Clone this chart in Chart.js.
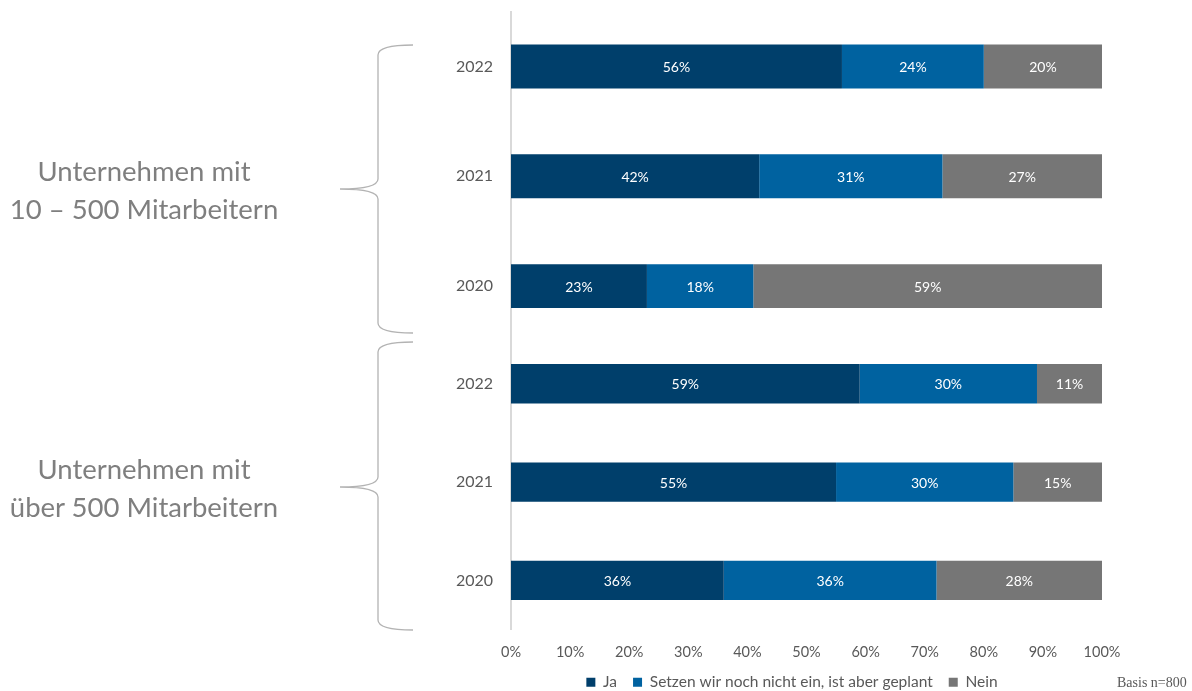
<!DOCTYPE html>
<html lang="de">
<head>
  <meta charset="UTF-8">
  <title>Einsatz nach Unternehmensgröße</title>
  <script src="https://cdn.jsdelivr.net/npm/chart.js"></script>
  <style>
    html, body { margin: 0; padding: 0; background: #fff; }
    #wrap { position: relative; width: 1192px; height: 691px; overflow: hidden; font-family: Lato, sans-serif; }
    canvas { position: absolute; }
    .group { position: absolute; left: 0; width: 288px; text-align: center; color: #7f7f7f; font-size: 27.5px; line-height: 38px; }
    #basis { position: absolute; left: 1117px; top: 675px; font-family: "Liberation Serif", serif; font-size: 14px; color: #595959; }
  </style>
</head>
<body>
  <div id="wrap">
    <canvas id="topChart" width="1192" height="699" style="left:0;top:-8px"></canvas>
    <canvas id="bottomChart" width="800" height="385" style="left:392px;top:315px"></canvas>
    <div class="group" style="top:152px">Unternehmen mit<br>10 – 500 Mitarbeitern</div>
    <div class="group" style="top:450px">Unternehmen mit<br>über 500 Mitarbeitern</div>
    <div id="basis">Basis n=800</div>
  </div>
  <script>
    // Daten
    const years = ['2022', '2021', '2020'];
    const seriesNames = ['Ja', 'Setzen wir noch nicht ein, ist aber geplant', 'Nein'];
    const colors = ['#003f6b', '#0062a0', '#767676'];

    // Unternehmen mit 10 - 500 Mitarbeitern
    const smallJa = [56, 42, 23];
    const smallGeplant = [24, 31, 18];
    const smallNein = [20, 27, 59];

    // Unternehmen mit über 500 Mitarbeitern
    const bigJa = [59, 55, 36];
    const bigGeplant = [30, 30, 36];
    const bigNein = [11, 15, 28];

    const xTicks = [0, 10, 20, 30, 40, 50, 60, 70, 80, 90, 100];

    Chart.defaults.font.family = 'Lato';
    Chart.defaults.color = '#595959';

    const topOffset = 8; // top canvas sits 8px above the page

    function makeDatasets(values) {
      return values.map((v, i) => ({
        label: seriesNames[i],
        data: v,
        backgroundColor: colors[i],
        borderWidth: 0,
        categoryPercentage: 1,
        barPercentage: 0.4
      }));
    }

    // Prozentwerte in den Balken
    const valueLabels = {
      id: 'valueLabels',
      afterDatasetsDraw(chart) {
        const ctx = chart.ctx;
        ctx.save();
        ctx.font = '14px Lato';
        ctx.fillStyle = '#ffffff';
        ctx.textAlign = 'center';
        ctx.textBaseline = 'middle';
        chart.data.datasets.forEach((ds, i) => {
          chart.getDatasetMeta(i).data.forEach((bar, j) => {
            ctx.fillText(ds.data[j] + '%', (bar.x + bar.base) / 2, bar.y + 1);
          });
        });
        ctx.restore();
      }
    };

    // geschweifte Klammern links
    const braces = {
      id: 'braces',
      afterDraw(chart) {
        const ctx = chart.ctx;
        const drawBrace = (t, m, b) => {
          const xl = 378, xe = 413, xt = 340, r = 10;
          t += topOffset; m += topOffset; b += topOffset;
          ctx.beginPath();
          ctx.moveTo(xe, t);
          ctx.quadraticCurveTo(xl, t, xl, t + r);
          ctx.lineTo(xl, m - r);
          ctx.quadraticCurveTo(xl, m, xt, m);
          ctx.quadraticCurveTo(xl, m, xl, m + r);
          ctx.lineTo(xl, b - r);
          ctx.quadraticCurveTo(xl, b, xe, b);
          ctx.stroke();
        };
        ctx.save();
        ctx.strokeStyle = '#b3b3b3';
        ctx.lineWidth = 1.3;
        drawBrace(45, 189, 333);
        drawBrace(342, 487, 630);
        ctx.restore();
      }
    };

    const yTicks = { color: '#595959', font: { size: 16 }, padding: 10 };
    const yBorder = { display: true, color: '#d9d9d9', width: 2 };

    new Chart(document.getElementById('topChart'), {
      type: 'bar',
      data: { labels: years, datasets: makeDatasets([smallJa, smallGeplant, smallNein]) },
      options: {
        indexAxis: 'y',
        responsive: false,
        animation: false,
        layout: { padding: { top: 0, bottom: 350, left: 0, right: 90 } },
        plugins: { legend: { display: false }, tooltip: { enabled: false } },
        scales: {
          x: { stacked: true, min: 0, max: 100, display: false },
          y: {
            stacked: true,
            grid: { display: false },
            border: yBorder,
            ticks: yTicks,
            afterFit(scale) { scale.width = 511; }
          }
        }
      },
      plugins: [valueLabels, braces]
    });

    new Chart(document.getElementById('bottomChart'), {
      type: 'bar',
      data: { labels: years, datasets: makeDatasets([bigJa, bigGeplant, bigNein]) },
      options: {
        indexAxis: 'y',
        responsive: false,
        animation: false,
        layout: { padding: 0 },
        plugins: {
          tooltip: { enabled: false },
          legend: {
            position: 'bottom',
            labels: { boxWidth: 9, boxHeight: 9, padding: 16, color: '#595959', font: { size: 15.5 } }
          }
        },
        scales: {
          x: {
            stacked: true,
            min: 0,
            max: 100,
            grid: { display: false, drawTicks: false },
            border: { display: false },
            afterBuildTicks(scale) { scale.ticks = xTicks.map(v => ({ value: v })); },
            ticks: { color: '#595959', font: { size: 14.5 }, padding: 14, callback: v => v + '%' },
            afterFit(scale) { scale.height = 29; }
          },
          y: {
            stacked: true,
            grid: { display: false },
            border: yBorder,
            ticks: yTicks,
            afterFit(scale) { scale.width = 119; }
          },
          yR: {
            type: 'category',
            position: 'right',
            grid: { display: false },
            border: { display: false },
            ticks: { display: false },
            afterFit(scale) { scale.width = 90; }
          }
        }
      },
      plugins: [valueLabels]
    });
  </script>
</body>
</html>
